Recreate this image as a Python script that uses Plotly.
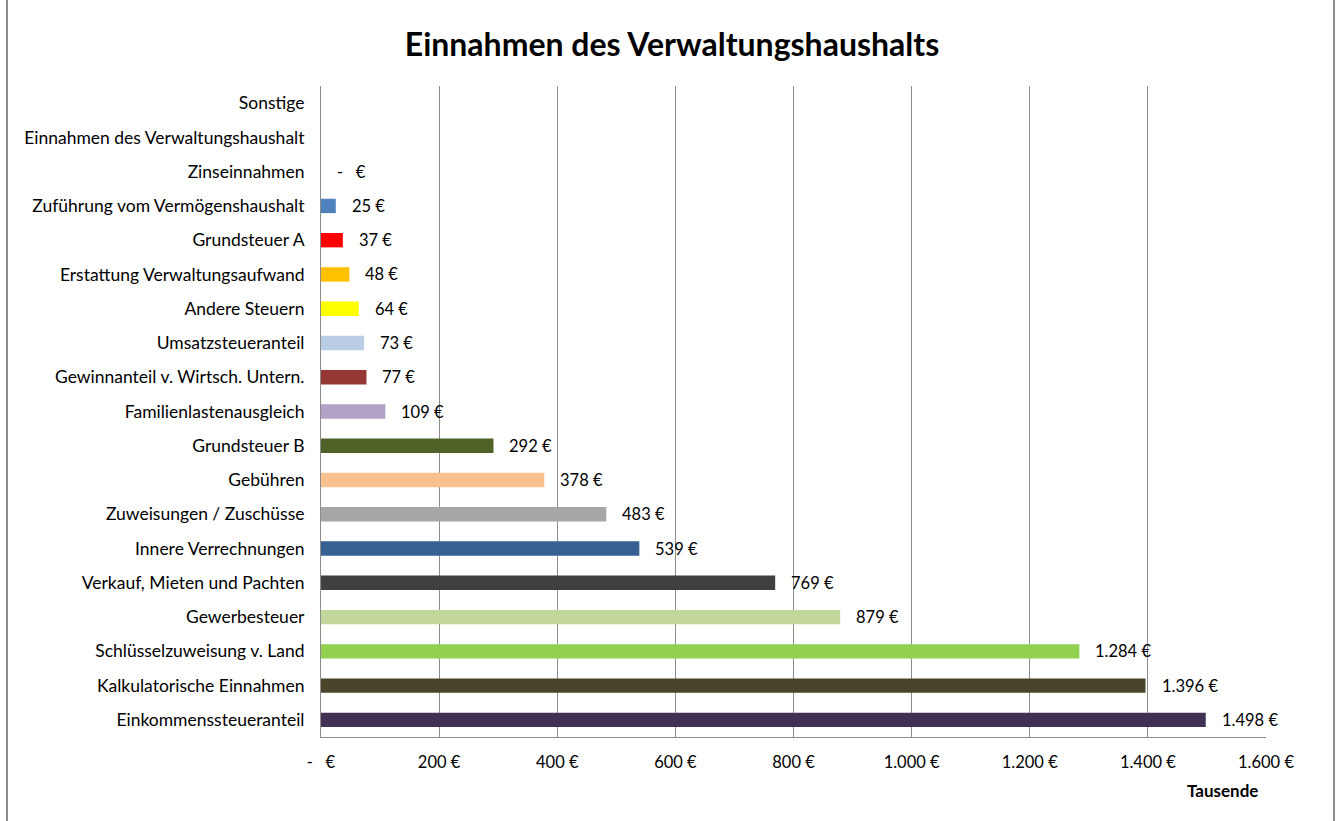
import plotly.graph_objects as go

categories = [
    "Einkommenssteueranteil", "Kalkulatorische Einnahmen", "Schlüsselzuweisung v. Land",
    "Gewerbesteuer", "Verkauf, Mieten und Pachten", "Innere Verrechnungen",
    "Zuweisungen / Zuschüsse", "Gebühren", "Grundsteuer B", "Familienlastenausgleich",
    "Gewinnanteil v. Wirtsch. Untern.", "Umsatzsteueranteil", "Andere Steuern",
    "Erstattung Verwaltungsaufwand", "Grundsteuer A", "Zuführung vom Vermögenshaushalt",
    "Zinseinnahmen", "Einnahmen des Verwaltungshaushalt", "Sonstige",
]
values = [1498, 1396, 1284, 879, 769, 539, 483, 378, 292, 109, 77, 73, 64, 48, 37, 25, 0, None, None]
colors = [
    "#403152", "#4A452A", "#92D050", "#C3D69B", "#404040", "#376092",
    "#A6A6A6", "#FAC090", "#4F6228", "#B3A2C7", "#953735", "#B9CDE5",
    "#FFFF00", "#FFC000", "#FF0000", "#4F81BD", "#4F81BD", "#4F81BD", "#4F81BD",
]
tick_vals = [0, 200, 400, 600, 800, 1000, 1200, 1400, 1600]
tick_text = ["-   €", "200 €", "400 €", "600 €", "800 €", "1.000 €", "1.200 €", "1.400 €", "1.600 €"]

FONT = "Lato"


def fmt(v):
    if v == 0:
        return "-   €"
    return f"{v:,}".replace(",", ".") + " €"


fig = go.Figure()
fig.add_trace(go.Bar(
    y=categories, x=[v if v is not None else 0 for v in values], orientation="h",
    marker=dict(color=colors, line=dict(width=0)), width=0.42,
    hoverinfo="skip",
))

annotations = []
for c, v in zip(categories, values):
    if v is None:
        continue
    annotations.append(dict(
        x=v, y=c, xref="x", yref="y", text=fmt(v), showarrow=False,
        xanchor="left", yanchor="middle", xshift=14,
        font=dict(family=FONT, size=16.5, color="#000000"),
    ))

L, R, T, B = 321, 70, 86, 84
W, H = 1336, 821
pw, ph = W - L - R, H - T - B

annotations.append(dict(
    x=(1222 - L) / pw, y=-(790 - (T + ph)) / ph, xref="paper", yref="paper",
    text="<b>Tausende</b>", showarrow=False, xanchor="center", yanchor="middle",
    font=dict(family=FONT, size=17, color="#000000"),
))

shapes = [
    dict(type="line", xref="paper", yref="paper",
         x0=(7 - L) / pw, x1=(7 - L) / pw, y0=-(B + 5) / ph, y1=(T + 5) / ph + 1,
         line=dict(color="#8c8c8c", width=2)),
    dict(type="line", xref="paper", yref="paper",
         x0=(1334 - L) / pw, x1=(1334 - L) / pw, y0=-(B + 5) / ph, y1=(T + 5) / ph + 1,
         line=dict(color="#8c8c8c", width=2)),
]

fig.update_layout(
    width=W, height=H,
    margin=dict(l=L, r=R, t=T, b=B),
    paper_bgcolor="white", plot_bgcolor="white",
    title=dict(text="<b>Einnahmen des Verwaltungshaushalts</b>", x=672 / W, xanchor="center",
               y=1 - 45 / H, yanchor="middle",
               font=dict(family=FONT, size=32, color="#000000")),
    font=dict(family=FONT, size=17, color="#000000"),
    showlegend=False,
    bargap=0.58,
    annotations=annotations,
    shapes=shapes,
    xaxis=dict(
        range=[0, 1600], tickvals=tick_vals, ticktext=tick_text,
        showgrid=True, gridcolor="#8c8c8c", gridwidth=1,
        zeroline=False, showline=True, linecolor="#8c8c8c", linewidth=1,
        ticks="", ticklabelstandoff=10,
        tickfont=dict(family=FONT, size=16.5, color="#000000"),
        fixedrange=True,
    ),
    yaxis=dict(
        type="category", categoryorder="array", categoryarray=categories,
        range=[-0.5, len(categories) - 0.5],
        showgrid=False, zeroline=False, showline=True, linecolor="#8c8c8c", linewidth=1,
        ticks="", ticklabelstandoff=12,
        tickfont=dict(family=FONT, size=17.5, color="#000000"),
        fixedrange=True,
    ),
)

fig.write_html("out.html", config={"displayModeBar": False},
               post_script="document.body.style.margin='0px';")
